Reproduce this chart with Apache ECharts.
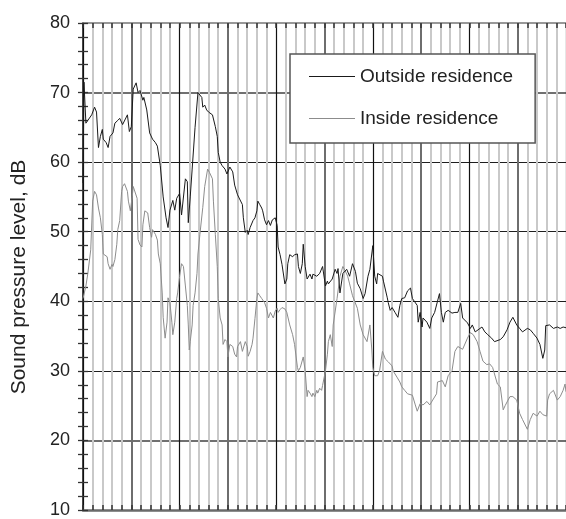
<!DOCTYPE html>
<html>
<head>
<meta charset="utf-8">
<script src="https://cdn.jsdelivr.net/npm/echarts@6/dist/echarts.min.js"></script>
<style>
  html, body { margin: 0; padding: 0; background: #fff; }
  #chart { width: 566px; height: 519px; }
</style>
</head>
<body>
<div id="chart"></div>
<script>
  // time along the record (grid line every 1 unit)
  var outsideTime = [0.0, 0.1, 0.3, 0.5, 0.9, 1.2, 1.4, 1.6, 1.8, 2.0, 2.1, 2.4, 2.6, 2.8, 3.1, 3.3, 3.6, 3.8, 4.0, 4.1,
    4.6, 4.8, 5.0, 5.2, 5.5, 5.7, 5.9, 6.2, 6.3, 6.6, 6.9, 7.2, 7.5, 7.7, 8.0, 8.3, 8.6, 8.8, 9.0, 9.3,
    9.5, 9.7, 10.0, 10.2, 10.6, 10.8, 10.9, 11.1, 11.3, 11.6, 11.9, 12.1, 12.3, 12.4, 12.6, 12.8, 13.0, 13.4, 13.5, 13.7,
    13.9, 14.0, 14.2, 14.4, 14.7, 14.9, 15.2, 15.5, 15.7, 16.0, 16.5, 16.6, 16.8, 17.0, 17.1, 17.3, 17.6, 17.8, 18.0, 18.1,
    18.3, 18.5, 18.6, 18.8, 19.0, 19.2, 19.4, 19.6, 19.9, 20.1, 20.2, 20.4, 20.6, 20.9, 21.1, 21.2, 21.4, 21.6, 21.7, 21.9,
    22.2, 22.3, 22.5, 22.7, 22.8, 23.0, 23.2, 23.3, 23.5, 23.7, 23.8, 24.2, 24.5, 24.8, 25.1, 25.3, 25.4, 25.8, 26.1, 26.3,
    26.4, 26.6, 26.9, 27.3, 27.6, 27.9, 28.2, 28.4, 28.7, 29.0, 29.2, 29.5, 29.7, 30.0, 30.2, 30.4, 30.5, 31.0, 31.1, 31.5,
    31.6, 31.8, 32.0, 32.3, 32.6, 32.8, 33.0, 33.3, 33.6, 33.9, 34.1, 34.2, 34.6, 34.7, 34.9, 35.1, 35.2, 35.6, 35.9, 36.1,
    36.4, 36.6, 36.9, 37.1, 37.3, 37.5, 37.8, 38.2, 38.5, 38.8, 39.1, 39.3, 39.8, 40.1, 40.3, 40.6, 40.9, 41.3, 41.6, 41.9,
    42.3, 42.6, 43.2, 43.5, 43.9, 44.2, 44.5, 44.9, 45.2, 45.5, 46.0, 46.3, 46.6, 47.0, 47.3, 47.6, 47.8, 47.9, 48.3, 48.7,
    49.1, 49.4, 49.7, 50.0];
  var outsideDb = [57, 71.5, 65.6, 66, 66.8, 67.9, 67.2, 62.1, 63.7, 64.7, 63.3, 62.8, 62.1, 63.7, 64.2, 65.6, 66, 66.3, 66.5, 65.4,
    66.8, 64.4, 65.1, 70.5, 71.4, 70, 70.3, 68.9, 69.3, 67.5, 64.2, 63.3, 62.8, 62.3, 59.5, 55, 52, 50.6, 53.1, 54.5,
    53.1, 54.8, 55.5, 52.4, 57.6, 57.2, 51.3, 55, 59, 65, 70, 69.8, 69.3, 67.9, 68.2, 67.5, 67.2, 66.8, 66.8, 65.1,
    63.7, 61.4, 60, 59.5, 59, 58.3, 59.3, 58.6, 56.7, 55.3, 53.9, 52, 49.9, 50.2, 49.6, 50.6, 51.6, 52, 53, 54.4,
    53.9, 53.4, 53, 51.7, 51, 51.6, 50.9, 51.7, 52, 50.9, 47.8, 46.7, 45.3, 42.5, 43.2, 45.4, 46.7, 46.8, 46.4, 46.7,
    46.8, 45, 44, 45.4, 48.2, 45, 43.2, 43.3, 43.9, 43.2, 43.9, 43.6, 44, 45, 42.2, 42.9, 42.5, 43.2, 44.6, 44,
    44.7, 41.2, 44, 44.6, 43.6, 45.4, 44.3, 42.6, 41.8, 40.4, 41.1, 43.6, 44.6, 48, 43.6, 42.5, 44, 43.6, 42.9, 40.5,
    39.8, 38.7, 39.1, 38.4, 37.7, 39.4, 40.4, 40.5, 41.5, 41.9, 40.4, 40.4, 39.4, 37, 38.4, 36.3, 37.6, 37, 36.1, 37.6,
    38.4, 38.4, 41.1, 38.4, 37, 38.4, 38.7, 38.3, 38.4, 38.4, 39.7, 37.6, 36.9, 36.1, 36.6, 35.6, 35.9, 36.3, 35.6, 35.2,
    34.7, 34.2, 34.5, 34.9, 35.9, 37, 37.7, 36.6, 36.1, 35.6, 36.1, 35.9, 35.4, 34.7, 33.8, 31.8, 33, 36.5, 36.6, 36.1,
    36.3, 36.1, 36.3, 36.2];

  var insideTime = [0.0, 0.3, 0.5, 0.8, 1.0, 1.2, 1.4, 1.6, 1.8, 2.0, 2.1, 2.3, 2.5, 2.6, 2.8, 3.0, 3.1, 3.3, 3.5, 3.6,
    3.8, 4.0, 4.1, 4.3, 4.6, 4.7, 4.9, 5.1, 5.2, 5.4, 5.6, 5.7, 5.9, 6.1, 6.2, 6.4, 6.6, 6.7, 6.9, 7.1,
    7.2, 7.5, 7.7, 7.8, 8.0, 8.2, 8.3, 8.5, 8.7, 8.8, 9.0, 9.2, 9.3, 9.5, 9.7, 9.8, 10.0, 10.2, 10.4, 10.6,
    10.8, 10.9, 11.0, 11.1, 11.3, 11.4, 11.6, 11.8, 11.9, 12.1, 12.4, 12.6, 12.9, 13.1, 13.4, 13.5, 13.7, 13.9, 14.0, 14.2,
    14.4, 14.5, 14.7, 14.9, 15.0, 15.2, 15.4, 15.5, 15.7, 15.9, 16.0, 16.3, 16.5, 16.8, 17.0, 17.1, 17.3, 17.5, 17.6, 17.8,
    18.0, 18.1, 18.3, 18.5, 18.8, 19.0, 19.2, 19.4, 19.7, 19.9, 20.1, 20.2, 20.4, 20.6, 20.9, 21.1, 21.4, 21.7, 21.9, 22.2,
    22.3, 22.5, 22.7, 22.8, 23.0, 23.2, 23.3, 23.5, 23.7, 23.8, 24.0, 24.2, 24.3, 24.5, 24.7, 24.8, 25.1, 25.3, 25.4, 25.6,
    25.8, 25.9, 26.3, 26.6, 26.9, 27.1, 27.3, 27.4, 27.6, 27.9, 28.4, 28.7, 29.0, 29.4, 29.7, 29.9, 30.0, 30.2, 30.5, 30.7,
    31.0, 31.3, 31.6, 32.0, 32.1, 32.5, 32.8, 33.0, 33.3, 33.6, 34.1, 34.4, 34.6, 34.9, 35.2, 35.6, 35.9, 36.2, 36.6, 36.7,
    37.2, 37.5, 37.8, 38.2, 38.5, 38.8, 39.3, 39.8, 40.1, 40.4, 40.8, 41.1, 41.4, 41.8, 42.1, 42.4, 42.9, 43.2, 43.5, 43.7,
    44.0, 44.2, 44.5, 44.9, 45.2, 45.5, 46.0, 46.3, 46.6, 47.0, 47.3, 47.6, 48.0, 48.1, 48.3, 48.7, 49.1, 49.4, 49.7, 49.9,
    50.0];
  var insideDb = [40.4, 42.2, 44, 47.4, 54.4, 55.8, 55.3, 53.4, 52, 49.6, 46.8, 46.7, 46.4, 45.4, 44.6, 45.3, 45, 46, 48.2, 50.3,
    51.6, 55.8, 56.5, 56.9, 55.8, 54.4, 53, 55.1, 56.5, 56.5, 54.8, 48.9, 48.1, 47.8, 51, 53, 53.1, 52.7, 50.6, 49.2,
    50.3, 49.6, 48.8, 46.8, 45.4, 41.2, 37.7, 34.7, 37, 40.5, 39.8, 37, 35.2, 37, 40.4, 41.2, 43.6, 45.4, 45, 42.2,
    39.4, 36.6, 33, 34.2, 36.6, 39.4, 41.2, 44, 46.8, 49.6, 53.5, 56.5, 59, 58.5, 57.6, 54.4, 49.6, 45, 40.4, 37.6,
    36.6, 33.8, 34.5, 34.2, 32, 33.8, 34, 33.5, 32.4, 32, 33.5, 34.2, 32.8, 34.2, 33.5, 32.1, 32.8, 33.8, 34.7, 37.5,
    40.4, 41.2, 40.8, 40.4, 39.8, 39, 37.6, 38.4, 37.6, 38.6, 39, 38.4, 38.8, 39.1, 38.9, 38.4, 36.6, 35.2, 33.8, 30.5,
    30, 30.5, 30.5, 32, 30, 26.3, 27.2, 26.8, 26.3, 26.8, 26.3, 27.2, 26.8, 27.5, 27.2, 27.9, 30, 32.4, 34.2, 35.2,
    33.5, 36.6, 40.4, 43.6, 45, 44.5, 44.6, 43.6, 42.5, 40.8, 39, 36.6, 35.2, 34.2, 36.6, 33, 30.5, 29.3, 29.3, 30,
    32.8, 31.7, 31.3, 30.7, 30, 29.1, 28.4, 27.7, 27.2, 26.7, 26.5, 25.1, 24.2, 25.3, 25.1, 25.6, 25.1, 25.8, 26.7, 28.4,
    28.6, 27.7, 29.3, 30, 32.8, 33.5, 33.1, 34.7, 35.5, 35.2, 34.2, 32.8, 31.4, 30.9, 31, 30.5, 28.1, 27.7, 24.4, 25,
    25.8, 26.3, 26.3, 25.8, 23.9, 23, 21.6, 23, 23.9, 23.5, 24.2, 23.7, 23.5, 25.8, 26.7, 27.2, 25.8, 26.3, 27.2, 28.1,
    27];

  var yTicks = [10, 20, 30, 40, 50, 60, 70, 80];
  var seriesNames = ['Outside residence', 'Inside residence'];

  function pairs(xs, ys) {
    var out = [];
    for (var i = 0; i < xs.length; i++) out.push([xs[i], ys[i]]);
    return out;
  }

  var font = "'Liberation Sans', Arial, sans-serif";
  var clear = 'rgba(0,0,0,0)';
  var light = '#c9c9c9';
  var yMin = yTicks[0], yMax = yTicks[yTicks.length - 1];

  var myChart = echarts.init(document.getElementById('chart'), null, {renderer: 'canvas'});

  // light lines every unit, except where the 5s and 10s go
  var lightColors = [clear, light, light, light, light, clear, light, light, light, light];

  // small inward ticks every 2 dB on both sides
  function smallTickAxis(pos) {
    return {
      type: 'value', position: pos, min: yMin, max: yMax, interval: 2,
      axisLine: {show: false},
      axisTick: {show: true, inside: true, length: 5, lineStyle: {color: '#333', width: 1.3}},
      axisLabel: {show: false},
      splitLine: {show: false}
    };
  }

  myChart.setOption({
    animation: false,
    backgroundColor: '#fff',
    grid: {left: 83, right: 0, top: 23, bottom: 2},
    legend: {
      data: seriesNames,
      orient: 'vertical',
      left: 290,
      top: 54,
      padding: [13, 22, 15, 19],
      itemGap: 23,
      itemWidth: 46,
      itemHeight: 1.2,
      icon: 'rect',
      backgroundColor: '#fff',
      borderColor: '#555',
      borderWidth: 1.5,
      borderRadius: 0,
      textStyle: {fontSize: 19, color: '#222', fontFamily: font}
    },
    graphic: [{
      type: 'text',
      x: 19,
      y: 277,
      rotation: Math.PI / 2,
      style: {
        text: 'Sound pressure level, dB',
        font: '21px ' + font,
        fill: '#222',
        align: 'center',
        verticalAlign: 'middle'
      }
    }],
    xAxis: [
      {
        type: 'value', position: 'bottom', min: 0, max: 50, interval: 1,
        axisLine: {lineStyle: {color: '#6a6a6a', width: 2.5}},
        axisTick: {inside: true, length: 5, lineStyle: {color: '#333', width: 1.5}},
        axisLabel: {show: false},
        splitLine: {show: true, lineStyle: {color: lightColors, width: 2}}
      },
      {
        type: 'value', position: 'top', min: 0, max: 50, interval: 1,
        axisLine: {lineStyle: {color: '#777', width: 1.5}},
        axisTick: {inside: true, length: 5, lineStyle: {color: '#333', width: 1.5}},
        axisLabel: {show: false},
        splitLine: {show: false}
      },
      {
        type: 'value', position: 'bottom', min: 0, max: 50, interval: 5,
        axisLine: {show: false}, axisTick: {show: false}, axisLabel: {show: false},
        splitLine: {show: true, lineStyle: {color: [clear, '#6e6e6e'], width: 2}}
      },
      {
        type: 'value', position: 'bottom', min: 0, max: 50, interval: 10,
        axisLine: {show: false}, axisTick: {show: false}, axisLabel: {show: false},
        splitLine: {show: true, lineStyle: {color: '#111', width: 1.2}}
      }
    ],
    yAxis: [
      {
        type: 'value', position: 'left', min: yMin, max: yMax, interval: 10,
        axisLine: {show: true, lineStyle: {color: '#111', width: 1.5}},
        axisTick: {show: false},
        axisLabel: {fontSize: 18, color: '#222', fontFamily: font, margin: 13},
        splitLine: {show: true, lineStyle: {color: [clear, clear, '#1e1e1e', '#1e1e1e', '#1e1e1e', '#1e1e1e', clear, clear], width: 1.2}}
      },
      {
        type: 'value', position: 'right', min: yMin, max: yMax, interval: 10,
        axisLine: {show: false},
        axisTick: {show: false},
        axisLabel: {show: false},
        splitLine: {show: true, lineStyle: {color: [clear, '#707070', clear, clear, clear, clear, '#707070', clear], width: 2}}
      },
      smallTickAxis('left'),
      smallTickAxis('right')
    ],
    series: [
      {
        name: seriesNames[1],
        type: 'line',
        xAxisIndex: 0,
        yAxisIndex: 0,
        symbol: 'none',
        z: 3,
        lineStyle: {color: '#8c8c8c', width: 1},
        itemStyle: {color: '#8c8c8c'},
        data: pairs(insideTime, insideDb)
      },
      {
        name: seriesNames[0],
        type: 'line',
        xAxisIndex: 0,
        yAxisIndex: 0,
        symbol: 'none',
        z: 4,
        lineStyle: {color: '#1a1a1a', width: 1},
        itemStyle: {color: '#1a1a1a'},
        data: pairs(outsideTime, outsideDb)
      }
    ]
  });
</script>
</body>
</html>
